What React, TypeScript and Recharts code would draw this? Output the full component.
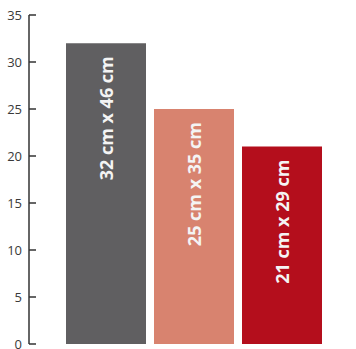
import React from 'react';
import { BarChart, Bar, XAxis, YAxis, Cell, LabelList } from 'recharts';

const formats = ['32 cm x 46 cm', '25 cm x 35 cm', '21 cm x 29 cm'];
const widths = [32, 25, 21];
const barColors = ['#605f61', '#d8836f', '#b40e1c'];
const yTicks = [0, 5, 10, 15, 20, 25, 30, 35];

const chartData = formats.map((name, i) => ({ name, value: widths[i] }));

const YTick = ({ x, y, payload }: any) => (
  <g>
    <line x1={x + 7} x2={x + 14} y1={y} y2={y} stroke="#333" strokeWidth={1.5} />
    <text x={x} y={y} dy={5} textAnchor="end" fontSize={13} fill="#3a3a3a" fontFamily="'Open Sans', sans-serif">
      {payload.value}
    </text>
  </g>
);

// vertical label at the top of each bar, reading bottom to top
const BarLabel = ({ x, y, width, index }: any) => {
  const cx = x + width / 2;
  const ty = y + 13;
  return (
    <text
      x={cx}
      y={ty}
      transform={`rotate(-90, ${cx}, ${ty})`}
      textAnchor="end"
      dominantBaseline="central"
      fontSize={18}
      fontWeight={700}
      fill="#f4f4f4"
      fontFamily="'Open Sans', sans-serif"
    >
      {formats[index]}
    </text>
  );
};

const App: React.FC = () => {
  return (
    <div style={{ position: 'absolute', left: 0, top: 0 }}>
      <BarChart
        width={356}
        height={349}
        data={chartData}
        margin={{ top: 15, right: 1, left: 0, bottom: 5 }}
        barCategoryGap={4}
      >
        <XAxis
          dataKey="name"
          height={0}
          tick={false}
          tickLine={false}
          axisLine={{ stroke: '#333', strokeWidth: 1.5 }}
          padding={{ left: 33, right: 29 }}
        />
        <YAxis
          width={29}
          domain={[0, 35]}
          ticks={yTicks}
          interval={0}
          tickSize={0}
          tickMargin={7}
          tickLine={false}
          axisLine={{ stroke: '#333', strokeWidth: 1.5 }}
          tick={<YTick />}
        />
        <Bar dataKey="value" barSize={80} isAnimationActive={false}>
          {chartData.map((entry, index) => (
            <Cell key={`cell-${index}`} fill={barColors[index]} />
          ))}
          <LabelList dataKey="value" content={<BarLabel />} />
        </Bar>
      </BarChart>
    </div>
  );
};

export default App;
